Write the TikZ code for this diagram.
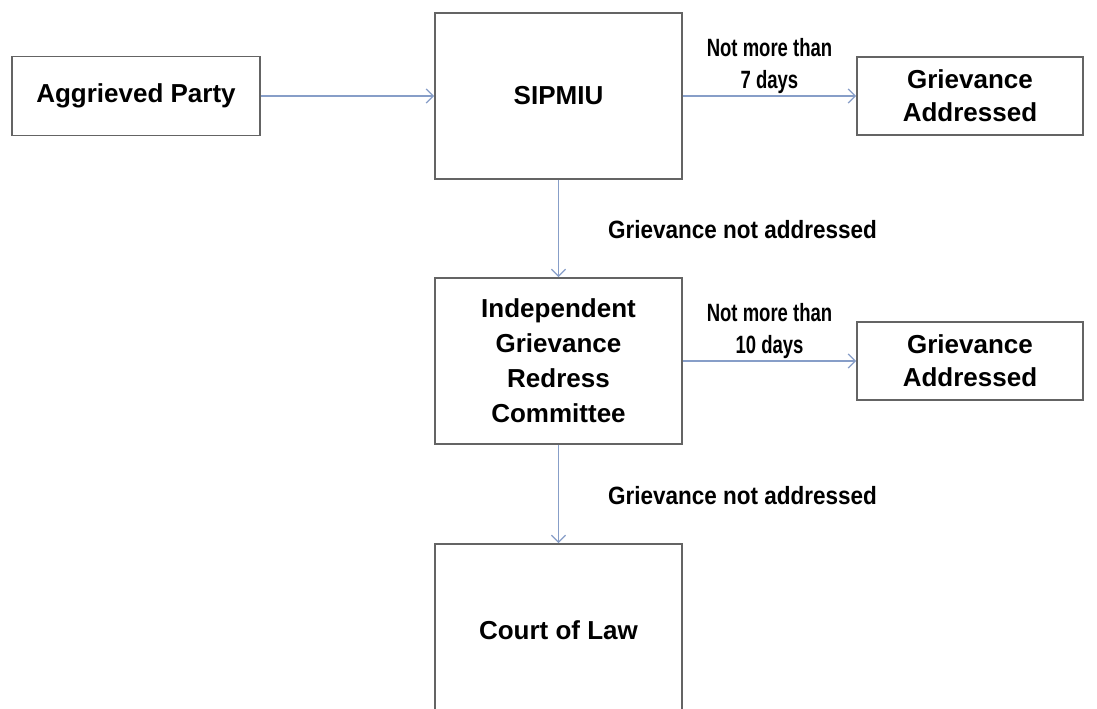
\documentclass[tikz,border=0pt]{standalone}
\usepackage{fontspec}
\setmainfont{Liberation Sans}
\newfontfamily\narrowfont[FakeStretch=0.74]{Liberation Sans Bold}
\newfontfamily\nafont[FakeStretch=0.9]{Liberation Sans Bold}
\usetikzlibrary{arrows.meta}
\definecolor{arrowc}{RGB}{135,158,200}
\definecolor{boxc}{RGB}{100,100,100}
\tikzset{
  box/.style={draw=boxc, line width=1.8pt, inner sep=0pt, align=center, font=\bfseries\fontsize{26}{33}\selectfont},
  flow/.style={draw=arrowc, line width=1.3pt, -{Straight Barb[length=7pt,width=14pt,line width=1.3pt]}},
  dayslabel/.style={font=\narrowfont\fontsize{25}{32}\selectfont, align=center, inner sep=0pt, above=2pt},
  nalabel/.style={font=\nafont\fontsize{25}{30}\selectfont, inner sep=0pt, anchor=base west, xshift=49pt, yshift=-10pt}
}
\begin{document}
\begin{tikzpicture}[x=1pt,y=-1pt]
\useasboundingbox (0,0) rectangle (1097,709);
\clip (0,0) rectangle (1097,709);
\fill[white] (0,0) rectangle (1097,709);
\node[box, minimum width=248pt, minimum height=79pt] (agg) at (136,96) {Aggrieved Party};
\node[box, minimum width=247pt, minimum height=166pt] (sip) at (558.5,96) {SIPMIU};
\node[box, minimum width=226pt, minimum height=78pt] (ga1) at (970,96) {Grievance\\Addressed};
\node[box, minimum width=247pt, minimum height=166pt, font=\bfseries\fontsize{26}{35}\selectfont] (igrc) at (558.5,361) {Independent\\Grievance\\Redress\\Committee};
\node[box, minimum width=226pt, minimum height=78pt] (ga2) at (970,361) {Grievance\\Addressed};
\node[box, minimum width=247pt, minimum height=172pt] (court) at (558.5,630) {Court of Law};
\draw[flow] (agg) -- (sip);
\draw[flow] (sip) -- node[dayslabel]{Not more than\\7 days} (ga1);
\draw[flow] (sip) -- node[nalabel]{Grievance not addressed} (igrc);
\draw[flow] (igrc) -- node[dayslabel]{Not more than\\10 days} (ga2);
\draw[flow] (igrc) -- node[nalabel]{Grievance not addressed} (court);
\end{tikzpicture}
\end{document}
